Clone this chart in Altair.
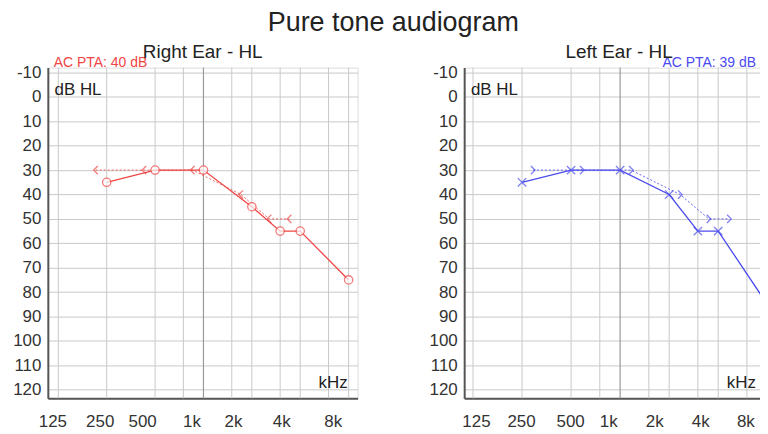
import altair as alt
import pandas as pd

FONT = "Liberation Sans"

# ---- data ----
ac_freqs = [250, 500, 1000, 2000, 3000, 4000, 8000]
right_ac = [35, 30, 30, 45, 55, 55, 75]
left_ac = [35, 30, 30, 40, 55, 55, 85]
bc_freqs = [250, 500, 1000, 2000, 3000, 4000]
right_bc = [30, 30, 30, 40, 50, 50]
left_bc = [30, 30, 30, 40, 50, 50]
grid_freqs = [125, 250, 500, 750, 1000, 1500, 2000, 3000, 4000, 6000, 8000]
tick_freqs = [125, 250, 500, 1000, 2000, 4000, 8000]
tick_labels = ["125", "250", "500", "1k", "2k", "4k", "8k"]
db_ticks = list(range(-10, 130, 10))
right_pta = "AC PTA: 40 dB"
left_pta = "AC PTA: 39 dB"

RED = "#f04545"
BLUE = "#4b4bf0"

label_expr = "''"
for f, lab in reversed(list(zip(tick_freqs, tick_labels))):
    label_expr = f"datum.value == {f} ? '{lab}' : ({label_expr})"


def offset_cond(offsets):
    return {
        "condition": [{"test": f"datum.value == {f}", "value": o} for f, o in zip(tick_freqs, offsets)],
        "value": 0,
    }


def panel(title, ac_vals, bc_vals, color, ac_shape, bc_shape, bc_factor, pta, pta_left, offsets, xdom,
          right_dx):
    ac_df = pd.DataFrame({"freq": ac_freqs, "db": ac_vals})
    bc_df = pd.DataFrame({"freq": bc_freqs, "db": bc_vals})
    grid_df = pd.DataFrame({"freq": [f for f in grid_freqs if f != 1000]})
    k_df = pd.DataFrame({"freq": [1000]})

    x_scale = alt.Scale(type="log", domain=xdom, nice=False)
    y_scale = alt.Scale(domain=[-12, 123.5], reverse=True, nice=False, zero=False)
    x_axis = alt.Axis(
        title=None, values=tick_freqs, tickCount=30, labelExpr=label_expr, grid=False, ticks=False,
        labelPadding=15, labelFontSize=17, labelFont=FONT, labelColor="#333",
        domainColor="#555", domainWidth=2, labelOffset=offset_cond(offsets),
        labelFlush=False, labelOverlap=False,
    )
    y_axis = alt.Axis(
        title=None, values=db_ticks, tickCount=30, labelExpr="'' + datum.value", grid=True,
        gridColor="#c9c9c9", gridWidth=1,
        ticks=False, labelPadding=7, labelFontSize=17, labelFont=FONT, labelColor="#333",
        domainColor="#555", domainWidth=2, labelFlush=False, labelOverlap=False,
    )

    def X(field=None, datum=None):
        if datum is not None:
            return alt.X(datum=datum, scale=x_scale, axis=x_axis)
        return alt.X(field, scale=x_scale, axis=x_axis)

    def Y(field=None, datum=None):
        if datum is not None:
            return alt.Y(datum=datum, scale=y_scale, axis=y_axis)
        return alt.Y(field, scale=y_scale, axis=y_axis)

    grid = alt.Chart(grid_df).mark_rule(color="#c9c9c9", strokeWidth=1).encode(x=X("freq:Q"))
    kline = alt.Chart(k_df).mark_rule(color="#9a9a9a", strokeWidth=1.2).encode(x=X("freq:Q"))

    bc_base = alt.Chart(bc_df).transform_calculate(px=f"datum.freq * {bc_factor}")
    bc_line = bc_base.mark_line(color=color, strokeWidth=1, strokeDash=[2, 2], opacity=0.85, clip=True).encode(
        x=X("px:Q"), y=Y("db:Q"))
    bc_pts = bc_base.mark_point(shape=bc_shape, filled=False, color=color, size=70, strokeWidth=1.3,
                                clip=True).encode(x=X("px:Q"), y=Y("db:Q"))

    ac_line = alt.Chart(ac_df).mark_line(color=color, strokeWidth=1.3, clip=True).encode(
        x=X("freq:Q"), y=Y("db:Q"))
    ac_pts = alt.Chart(ac_df).mark_point(shape=ac_shape, filled=False, color=color, fill="white",
                                         size=70, strokeWidth=1.3, clip=True).encode(x=X("freq:Q"), y=Y("db:Q"))

    ann = pd.DataFrame({"t": [0]})
    dbhl = alt.Chart(ann).mark_text(text="dB HL", font=FONT, fontSize=17, color="#222", align="left",
                                    baseline="middle").encode(x=X(datum=xdom[0] * 1.1), y=Y(datum=-3))
    khz = alt.Chart(ann).mark_text(text="kHz", font=FONT, fontSize=17, color="#222", align="right",
                                   baseline="middle", dx=right_dx).encode(x=X(datum=xdom[1]), y=Y(datum=117.3))
    if pta_left:
        ptat = alt.Chart(ann).mark_text(text=pta, font=FONT, fontSize=14, color=color, align="left",
                                        baseline="alphabetic", dy=-1, dx=6).encode(x=X(datum=xdom[0]), y=Y(datum=-12))
    else:
        ptat = alt.Chart(ann).mark_text(text=pta, font=FONT, fontSize=14, color=color, align="right",
                                        baseline="alphabetic", dy=-1, dx=right_dx).encode(x=X(datum=xdom[1]), y=Y(datum=-12))

    return alt.layer(grid, kline, bc_line, ac_line, bc_pts, ac_pts, dbhl, khz, ptat).properties(
        width=311, height=332,
        title=alt.TitleParams(title, fontSize=19, fontWeight="normal", font=FONT, color="#222",
                              anchor="middle", offset=-6),
    )


LT = "M0.5,-1L-0.5,0L0.5,1"
GT = "M-0.5,-1L0.5,0L-0.5,1"
XS = "M-1,-1L1,1M-1,1L1,-1"

right = panel("Right Ear - HL", right_ac, right_bc, RED, "circle", LT, 0.855, right_pta, True,
              [-6, -7, -13, -12, -19, -19, -16], [107.6, 9100], -10)
left = panel("Left Ear - HL", left_ac, left_bc, BLUE, XS, GT, 1.167, left_pta, False,
             [3, -1, -1, -12, -15, -18, -22], [110.4, 8790], -18)

chart = alt.hconcat(right, left, spacing=70).properties(
    title=alt.TitleParams("Pure tone audiogram", fontSize=27, fontWeight="normal", font=FONT,
                          color="#222", anchor="middle", offset=5),
    padding={"left": 4, "top": 0, "right": -15, "bottom": 0},
).configure_view(stroke="#888", strokeWidth=1).configure(background="white")

chart.save("out.html", embed_options={"renderer": "svg", "actions": False})
